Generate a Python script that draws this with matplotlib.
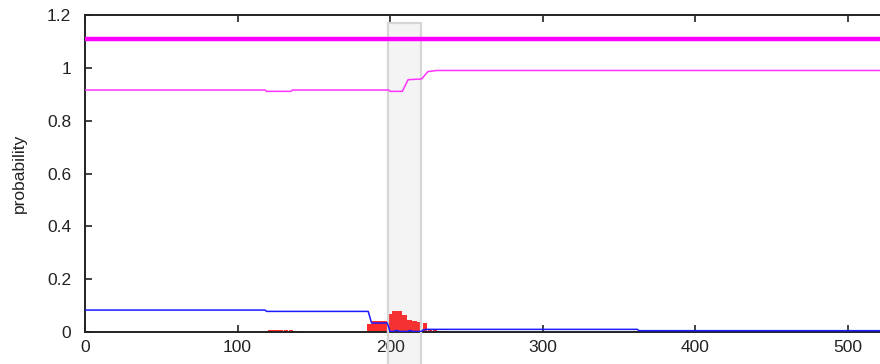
import matplotlib
matplotlib.use("Agg")
import matplotlib.pyplot as plt
from matplotlib.patches import Rectangle

# ---- data ----
top_x = [0, 521]
top_y = [1.111, 1.111]

magenta_x = [0, 118, 119, 135, 136, 199, 200, 208, 211.7, 220.6, 224.8, 230.7, 521]
magenta_y = [0.916, 0.916, 0.911, 0.911, 0.916, 0.916, 0.911, 0.911, 0.955, 0.958, 0.986, 0.990, 0.990]

blue_x = [0, 118, 119, 185.6, 187.8, 198.1, 199.9, 202, 204.3, 206.5, 211, 213, 215,
          220.6, 221.5, 223.9, 362, 363, 521]
blue_y = [0.083, 0.083, 0.078, 0.078, 0.034, 0.034, 0.002, 0.002, 0.006, 0.002, 0.002,
          0.006, 0.002, 0.002, 0.008, 0.010, 0.010, 0.005, 0.005]

red_x = [118.5, 121.8, 125.1, 128.4, 131.7, 135.0, 138.3, 141.6,
         186.5, 189.8, 193.1, 196.4, 199.7, 203.0, 206.3, 209.6, 212.9, 216.2,
         219.5, 222.8, 226.1, 229.4, 232.7, 236.0,
         360.5, 363.8, 367.1, 370.4, 373.7, 377.0, 380.3]
red_h = [0.004, 0.008, 0.008, 0.006, 0.008, 0.008, 0.005, 0.004,
         0.030, 0.042, 0.043, 0.042, 0.070, 0.080, 0.079, 0.065, 0.045, 0.040,
         0.037, 0.035, 0.010, 0.008, 0.005, 0.004,
         0.004, 0.005, 0.005, 0.004, 0.005, 0.005, 0.004]

band_x = (198.5, 220.0)
band_y = (-0.2, 1.17)

xticks = [0, 100, 200, 300, 400, 500]
yticks = [0, 0.2, 0.4, 0.6, 0.8, 1.0, 1.2]
ytick_labels = ["0", "0.2", "0.4", "0.6", "0.8", "1", "1.2"]

# ---- plot ----
plt.rcParams['font.family'] = ['Liberation Sans', 'DejaVu Sans']
fig = plt.figure(figsize=(8.8, 3.64), dpi=100)
ax = fig.add_axes([85/880, 32/364, 795/880, 317/364])

ax.bar(red_x, red_h, width=3.2, color='#ff2a2a', linewidth=0, zorder=2)

band = Rectangle((band_x[0], band_y[0]), band_x[1]-band_x[0], band_y[1]-band_y[0],
                 facecolor=(0.55, 0.55, 0.55, 0.09), edgecolor='#d6d6d6', linewidth=1.6,
                 clip_on=False, zorder=3)
ax.add_patch(band)

ax.plot(top_x, top_y, color='#ff00ff', lw=3.2, zorder=4)
ax.plot(magenta_x, magenta_y, color='#ff33ff', lw=1.1, zorder=4)
ax.plot(blue_x, blue_y, color='#1a1aff', lw=1.1, zorder=4)

ax.set_xlim(0, 521)
ax.set_ylim(0, 1.2)
ax.set_xticks(xticks)
ax.set_xticklabels([str(t) for t in xticks])
ax.set_yticks(yticks)
ax.set_yticklabels(ytick_labels)
ax.tick_params(direction='in', length=5, width=1.2, labelsize=12.5, colors='#222222',
               top=True, right=False, pad=6)
ax.tick_params(axis='y', pad=10)
for s in ['left', 'bottom', 'top']:
    ax.spines[s].set_linewidth(1.4)
    ax.spines[s].set_color('#222222')
ax.spines['right'].set_visible(False)
ax.set_ylabel('probability', fontsize=12.5, color='#222222', labelpad=14)

fig.savefig('out.png', dpi=100)
